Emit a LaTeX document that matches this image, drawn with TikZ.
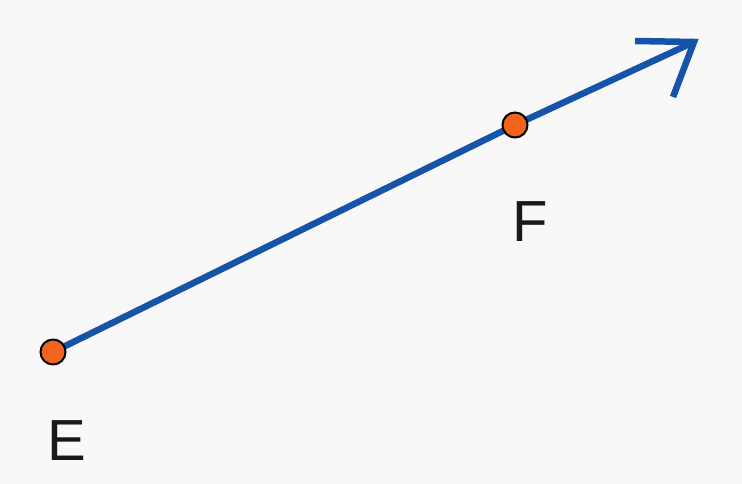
\documentclass[tikz,border=0pt]{standalone}
\usepackage{fontspec}
\setmainfont{Liberation Sans}
\definecolor{bg}{RGB}{248,248,248}
\definecolor{vecblue}{RGB}{22,84,170}
\definecolor{ptorange}{RGB}{242,100,30}
\tikzset{
  pt/.style={circle, fill=ptorange, draw=black, line width=2pt, minimum size=25pt, inner sep=0pt},
  lbl/.style={font=\fontsize{58}{60}\selectfont, text=black!90, inner sep=0pt},
  vec/.style={draw=vecblue, line width=6.5pt}
}
\begin{document}
\begin{tikzpicture}[x=1pt,y=1pt]
\fill[bg] (0,0) rectangle (742,484);
\useasboundingbox (0,0) rectangle (742,484);
\coordinate (tip) at (694,442);
\coordinate (a1) at (635,443);
\coordinate (a2) at (673,387);
\coordinate (Ec) at (53,132);
\coordinate (Fc) at (515,359);
\draw[vec] (Ec) -- (Fc) -- (tip);
\draw[vec, miter limit=10] (a1) -- (tip) -- (a2);
\node[pt] (E) at (Ec) {};
\node[pt] (F) at (Fc) {};
\node[lbl] (Elbl) at (67,43) {E};
\node[lbl] (Flbl) at (530,262) {F};
\end{tikzpicture}
\end{document}
